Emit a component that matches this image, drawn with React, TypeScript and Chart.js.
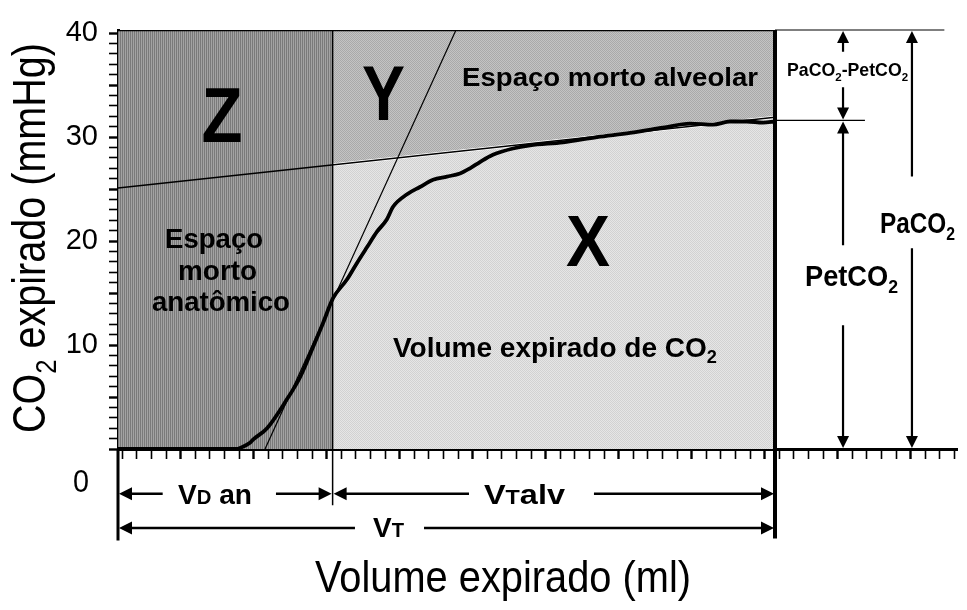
import React, { useEffect, useRef } from 'react';
import { Chart, registerables } from 'chart.js';

Chart.register(...registerables);

const FAMILY = '"Liberation Sans", Arial, Helvetica, sans-serif';

// ---------------- data (volume in ml, CO2 in mmHg) ----------------
const CURVE_VOLUME = [0, 81.5, 83.6, 90.4, 92.5, 102.1, 115.8, 124.7, 133.6, 140.4, 147.3, 156.8, 163.7, 170.5, 177.4, 184.2, 188.4, 198.0, 206.8, 215.8, 225.3, 234.2, 241.1, 247.9, 256.8, 270.5, 282.2, 304.8, 328.1, 350.7, 373.3, 391.8, 407.5, 419.2, 430.8, 441.8, 450];
const CURVE_CO2 = [0, 0, 0.1, 0.6, 0.9, 2.0, 4.8, 6.9, 9.8, 12.1, 14.5, 16.3, 17.9, 19.4, 20.9, 22.1, 23.3, 24.5, 25.2, 25.9, 26.2, 26.5, 27.0, 27.6, 28.3, 28.9, 29.2, 29.5, 30.0, 30.4, 30.9, 31.3, 31.2, 31.5, 31.5, 31.4, 31.5];

const PHASE3_VOLUME = [0, 450];
const PHASE3_CO2 = [25.1, 31.9];
const PHASE2_VOLUME = [100.7, 231.5];
const PHASE2_CO2 = [0, 40.3];

const VD_AN = 147;
const VT = 450;
const PETCO2 = 31.6;
const PACO2 = 40.3;

const X_MIN = 0;
const X_MAX = 575;
const Y_MIN = 0;
const Y_MAX = 40.3;

const Y_TICK_VALUES = [0, 1, 2, 3, 4, 5, 6, 7, 8, 9, 10, 11, 12, 13, 14, 15, 16, 17, 18, 19, 20, 21, 22, 23, 24, 25, 26, 27, 28, 29, 30, 31, 32, 33, 34, 35, 36, 37, 38, 39, 40];
const Y_TICK_LABELS = [10, 20, 30, 40];
const X_TICK_START = 3;
const X_TICK_STEP = 10;
const X_MAJOR_START = 43;
const X_MAJOR_STEP = 50;

// extension / reference lines (data units)
const VD_LINE_BOTTOM = -5.4;
const LEFT_EXT_BOTTOM = -8.8;
const VT_LINE_BOTTOM = -8.6;
const PETCO2_LINE_END = 511.6;
const PACO2_LINE_END = 566;

// ---------------- annotation layout ----------------
type Part = { t: string; s?: number; dy?: number };
type Label = { parts: Part[]; x: number; y: number; cap: number; w: number; bold: boolean };

const SUB = (t: string): Part => ({ t, s: 0.65, dy: 0.24 });

const PLOT_LABELS: Label[] = [
  { parts: [{ t: 'Z' }], x: 71.2, y: 32.1, cap: 54, w: 41, bold: true },
  { parts: [{ t: 'Y' }], x: 181.8, y: 34.3, cap: 55, w: 43, bold: true },
  { parts: [{ t: 'X' }], x: 321.9, y: 20.1, cap: 51, w: 44, bold: true },
  { parts: [{ t: 'Espaço morto alveolar' }], x: 337, y: 35.8, cap: 18, w: 296, bold: true },
  { parts: [{ t: 'Espaço' }], x: 65.8, y: 20.2, cap: 19, w: 98, bold: true },
  { parts: [{ t: 'morto' }], x: 68.2, y: 17.17, cap: 19, w: 79, bold: true },
  { parts: [{ t: 'anatômico' }], x: 70.5, y: 14.14, cap: 19, w: 138, bold: true },
  { parts: [{ t: 'Volume expirado de CO' }, SUB('2')], x: 299.3, y: 9.81, cap: 19.3, w: 324, bold: true },
  { parts: [{ t: 'PaCO' }, SUB('2'), { t: '-PetCO' }, SUB('2')], x: 499.7, y: 36.45, cap: 12.7, w: 121, bold: true },
  { parts: [{ t: 'PetCO' }, SUB('2')], x: 502.4, y: 16.6, cap: 20, w: 93, bold: true },
  { parts: [{ t: 'PaCO' }, SUB('2')], x: 547.6, y: 21.7, cap: 20, w: 75, bold: true },
  { parts: [{ t: 'V' }, { t: 'D', s: 0.72 }, { t: ' an' }], x: 66.4, y: -4.4, cap: 19.5, w: 74, bold: true },
  { parts: [{ t: 'V' }, { t: 'T', s: 0.72 }, { t: 'alv' }], x: 278.4, y: -4.4, cap: 19.5, w: 81, bold: true },
  { parts: [{ t: 'V' }, { t: 'T', s: 0.72 }], x: 185.3, y: -7.5, cap: 19.5, w: 31, bold: true },
  { parts: [{ t: '0' }], x: -25.3, y: -3.08, cap: 21, w: 16, bold: false },
];

const H_DIMS = [
  { from: 0, to: VD_AN, y: -4.3, gap: [30.6, 108.2] },
  { from: VD_AN, to: VT, y: -4.3, gap: [240.4, 326] },
  { from: 0, to: VT, y: -7.6, gap: [162.3, 209.6] },
];
const V_DIMS = [
  { x: 496.6, from: PACO2, to: PETCO2, gap: [38.2, 34.8] },
  { x: 496.6, from: PETCO2, to: 0, gap: [19.6, 11.9] },
  { x: 543.8, from: PACO2, to: 0, gap: [26.2, 19.3] },
];

const Y_TITLE: Part[] = [{ t: 'CO' }, SUB('2'), { t: ' expirado (mmHg)' }];
const X_TITLE: Part[] = [{ t: 'Volume expirado (ml)' }];

// ---------------- drawing helpers ----------------
const capCache: Record<string, number> = {};
function capRatio(ctx: CanvasRenderingContext2D, weight: string) {
  if (capCache[weight] == null) {
    ctx.save();
    ctx.font = `${weight} 100px ${FAMILY}`;
    const m = ctx.measureText('H');
    capCache[weight] = (m.actualBoundingBoxAscent || 72) / 100;
    ctx.restore();
  }
  return capCache[weight];
}

function drawRich(ctx: CanvasRenderingContext2D, parts: Part[], cx: number, cy: number, cap: number, targetW: number, weight: string, rot = 0) {
  const size = cap / capRatio(ctx, weight);
  const widths = parts.map((p) => {
    ctx.font = `${weight} ${size * (p.s ?? 1)}px ${FAMILY}`;
    return ctx.measureText(p.t).width;
  });
  const W = widths.reduce((a, b) => a + b, 0);
  const sx = targetW ? targetW / W : 1;
  ctx.save();
  ctx.translate(cx, cy);
  if (rot) ctx.rotate(rot);
  ctx.scale(sx, 1);
  ctx.textAlign = 'left';
  ctx.textBaseline = 'alphabetic';
  ctx.fillStyle = '#000';
  let x = -W / 2;
  const base = cap / 2;
  parts.forEach((p, i) => {
    ctx.font = `${weight} ${size * (p.s ?? 1)}px ${FAMILY}`;
    ctx.fillText(p.t, x, base + (p.dy ?? 0) * size);
    x += widths[i];
  });
  ctx.restore();
}

function head(ctx: CanvasRenderingContext2D, x: number, y: number, dir: string, L = 13, H = 6.5) {
  ctx.beginPath();
  if (dir === 'l') { ctx.moveTo(x, y); ctx.lineTo(x + L, y - H); ctx.lineTo(x + L, y + H); }
  if (dir === 'r') { ctx.moveTo(x, y); ctx.lineTo(x - L, y - H); ctx.lineTo(x - L, y + H); }
  if (dir === 'u') { ctx.moveTo(x, y); ctx.lineTo(x - H, y + L); ctx.lineTo(x + H, y + L); }
  if (dir === 'd') { ctx.moveTo(x, y); ctx.lineTo(x - H, y - L); ctx.lineTo(x + H, y - L); }
  ctx.closePath();
  ctx.fill();
}

function makePattern(ctx: CanvasRenderingContext2D, cells: string[][]) {
  const h = cells.length;
  const w = cells[0].length;
  const c = document.createElement('canvas');
  c.width = w;
  c.height = h;
  const g = c.getContext('2d')!;
  for (let r = 0; r < h; r++) for (let q = 0; q < w; q++) { g.fillStyle = cells[r][q]; g.fillRect(q, r, 1, 1); }
  return ctx.createPattern(c, 'repeat')!;
}

const pts = (xs: number[], ys: number[]) => xs.map((x, i) => ({ x, y: ys[i] }));

const annotationPlugin = {
  id: 'annotations',
  afterDraw(chart: any) {
    const ctx: CanvasRenderingContext2D = chart.ctx;
    const xs = chart.scales.x;
    const ys = chart.scales.y;
    const X = (v: number) => xs.getPixelForValue(v);
    const Y = (v: number) => ys.getPixelForValue(v);
    ctx.save();
    ctx.fillStyle = '#000';
    ctx.strokeStyle = '#000';
    ctx.lineCap = 'butt';

    // horizontal dimension arrows
    ctx.lineWidth = 2.6;
    for (const d of H_DIMS) {
      const x1 = X(d.from), x2 = X(d.to), y = Y(d.y);
      ctx.beginPath();
      ctx.moveTo(x1 + 10, y); ctx.lineTo(X(d.gap[0]), y);
      ctx.moveTo(X(d.gap[1]), y); ctx.lineTo(x2 - 10, y);
      ctx.stroke();
      head(ctx, x1 + 1, y, 'l');
      head(ctx, x2 - 1, y, 'r');
    }
    // vertical dimension arrows
    ctx.lineWidth = 2.2;
    for (const d of V_DIMS) {
      const x = X(d.x), y1 = Y(d.from), y2 = Y(d.to);
      ctx.beginPath();
      ctx.moveTo(x, y1 + 10); ctx.lineTo(x, Y(d.gap[0]));
      ctx.moveTo(x, Y(d.gap[1])); ctx.lineTo(x, y2 - 10);
      ctx.stroke();
      head(ctx, x, y1 + 1, 'u', 12, 6);
      head(ctx, x, y2 - 1, 'd', 12, 6);
    }
    for (const l of PLOT_LABELS) drawRich(ctx, l.parts, X(l.x), Y(l.y), l.cap, l.w, l.bold ? 'bold' : 'normal');

    drawRich(ctx, Y_TITLE, 29, 238, 32, 390, 'normal', -Math.PI / 2);
    drawRich(ctx, X_TITLE, 503, 576, 31, 376, 'normal');
    ctx.restore();
  },
};

export default function App() {
  const ref = useRef<HTMLCanvasElement>(null);
  useEffect(() => {
    const canvas = ref.current!;
    const ctx = canvas.getContext('2d')!;
    const patZ = makePattern(ctx, [['#7a7a7a', '#a3a3a3']]);
    const patY = makePattern(ctx, [['#a9a9a9', '#c3c3c3'], ['#c3c3c3', '#a9a9a9']]);
    const patX = makePattern(ctx, [['#d2d2d2', '#e6e6e6'], ['#e6e6e6', '#d2d2d2']]);

    const line = (label: string, data: any[], width: number, order: number, extra: any = {}) => ({
      label, data, borderColor: '#000', borderWidth: width, pointRadius: 0, fill: false, order, ...extra,
    });

    const chart = new Chart(ctx, {
      type: 'line',
      data: {
        datasets: [
          line('Espaço morto alveolar (Y)', pts([VD_AN, VT], [Y_MAX, Y_MAX]), 2.5, 12, { fill: 'start', backgroundColor: patY }),
          line('Volume expirado de CO2 (X)', pts(PHASE3_VOLUME, PHASE3_CO2), 3, 11, { fill: 'start', backgroundColor: patX, borderColor: '#fff' }),
          line('Espaço morto anatômico (Z)', pts([0, VD_AN], [Y_MAX, Y_MAX]), 2.5, 10, { fill: 'start', backgroundColor: patZ }),
          line('Fase III', pts(PHASE3_VOLUME, PHASE3_CO2), 1.5, 4),
          line('Fase II', pts(PHASE2_VOLUME, PHASE2_CO2), 1.2, 3),
          line('VD an', pts([VD_AN, VD_AN], [Y_MAX, VD_LINE_BOTTOM]), 1.5, 2, { clip: false }),
          line('origem', pts([0, 0], [0, LEFT_EXT_BOTTOM]), 3, 2, { clip: false }),
          line('VT', pts([VT, VT], [Y_MAX, VT_LINE_BOTTOM]), 4, 2, { clip: false }),
          line('PetCO2', pts([VT, PETCO2_LINE_END], [PETCO2, PETCO2]), 1.2, 2, { clip: false }),
          line('PaCO2', pts([VT, PACO2_LINE_END], [PACO2, PACO2]), 1.2, 2, { clip: false }),
          line('Capnograma', pts(CURVE_VOLUME, CURVE_CO2), 3.8, 1, { cubicInterpolationMode: 'monotone', borderJoinStyle: 'round', borderCapStyle: 'round' }),
        ],
      },
      options: {
        responsive: false,
        animation: false,
        events: [],
        layout: { padding: { top: 30, right: 9.5, bottom: 0, left: 0 } },
        plugins: { legend: { display: false }, tooltip: { enabled: false }, title: { display: false } },
        scales: {
          x: {
            type: 'linear',
            min: X_MIN,
            max: X_MAX,
            afterBuildTicks: (s: any) => {
              const t = [];
              for (let v = X_TICK_START; v <= X_MAX; v += X_TICK_STEP) t.push({ value: v });
              s.ticks = t;
            },
            afterFit: (s: any) => { s.height = 610 - 449; },
            ticks: { callback: () => '', autoSkip: false, maxRotation: 0 },
            grid: {
              drawOnChartArea: false,
              drawTicks: true,
              tickLength: 10,
              color: '#000',
              tickColor: '#000',
              tickWidth: (c: any) => ((c.tick && (c.tick.value - X_MAJOR_START) % X_MAJOR_STEP === 0) ? 2.4 : 1.6),
            },
            border: { display: true, color: '#000', width: 3 },
          },
          y: {
            type: 'linear',
            min: Y_MIN,
            max: Y_MAX,
            afterBuildTicks: (s: any) => { s.ticks = Y_TICK_VALUES.map((v) => ({ value: v })); },
            afterFit: (s: any) => { s.width = 118; },
            ticks: {
              autoSkip: false,
              padding: 11,
              color: '#000',
              font: { family: FAMILY, size: 29 },
              callback: (v: any) => (Y_TICK_LABELS.includes(Number(v)) ? String(v) : ''),
            },
            grid: {
              drawOnChartArea: false,
              drawTicks: true,
              tickLength: 9,
              color: '#000',
              tickColor: '#000',
              tickWidth: (c: any) => ((c.tick && c.tick.value % 5 === 0) ? 2.4 : 1.6),
            },
            border: { display: true, color: '#000', width: 3 },
          },
        },
      } as any,
      plugins: [annotationPlugin],
    } as any);
    return () => chart.destroy();
  }, []);

  return (
    <div style={{ position: 'absolute', left: 0, top: 0, width: 967, height: 610, background: '#fff' }}>
      <canvas ref={ref} width={967} height={610} style={{ display: 'block', width: 967, height: 610 }} />
    </div>
  );
}
